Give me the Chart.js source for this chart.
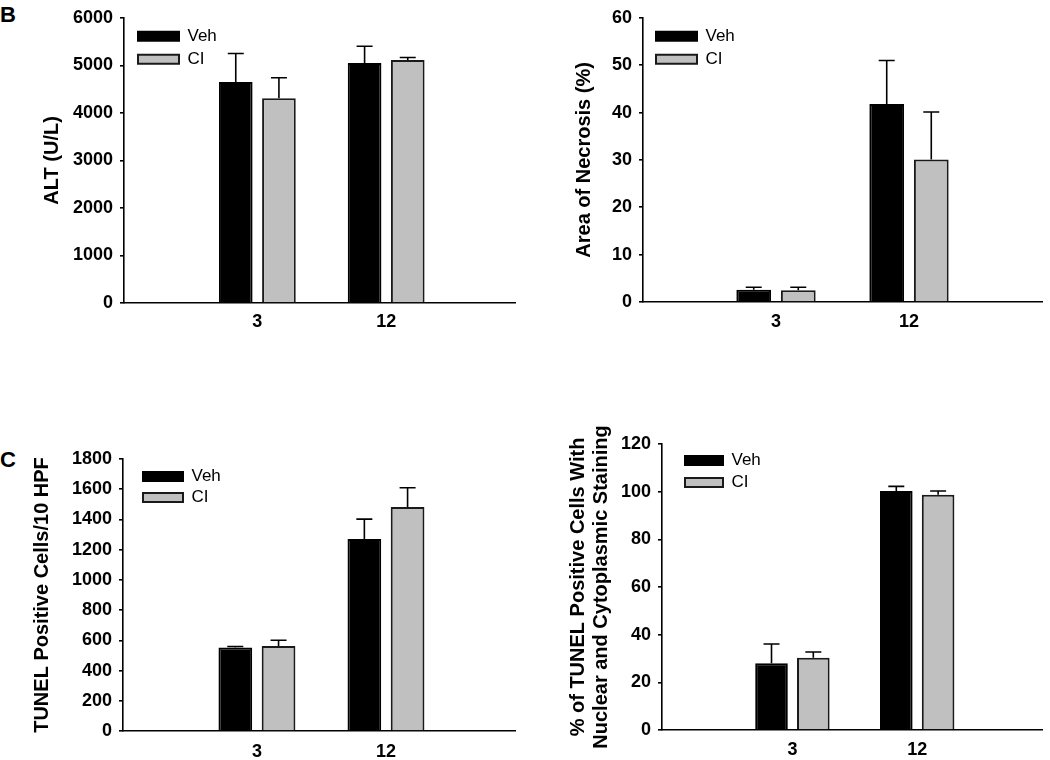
<!DOCTYPE html>
<html>
<head>
<meta charset="utf-8">
<script src="https://cdn.jsdelivr.net/npm/chart.js@4.4.1/dist/chart.umd.min.js"></script>
<style>
  html, body { margin: 0; padding: 0; background: #fff; }
  body { position: relative; width: 1050px; height: 760px; overflow: hidden; font-family: "Liberation Sans", Arial, sans-serif; }
  canvas { position: absolute; }
  .panel-label { position: absolute; font-weight: bold; font-size: 22px; color: #000; line-height: 1; }
</style>
</head>
<body>
<div class="panel-label" style="left:0px; top:4px;">B</div>
<div class="panel-label" style="left:0px; top:449px;">C</div>
<canvas id="altChart" width="525" height="345" style="left:0px; top:0px; width:525px; height:345px;"></canvas>
<canvas id="necChart" width="525" height="345" style="left:525px; top:0px; width:525px; height:345px;"></canvas>
<canvas id="tunelChart" width="525" height="340" style="left:0px; top:420px; width:525px; height:340px;"></canvas>
<canvas id="pctChart" width="525" height="340" style="left:525px; top:420px; width:525px; height:340px;"></canvas>
<script>
// ---------- data ----------
const timepoints = ['3', '12'];
const seriesNames = ['Veh', 'CI'];

const altVeh = [4650, 5050];
const altVehErr = [600, 350];
const altCI = [4310, 5110];
const altCIErr = [430, 55];
const altAxis = [0, 6000, 1000];          // min, max, step

const necVeh = [2.6, 41.8];
const necVehErr = [0.5, 9.2];
const necCI = [2.5, 30.1];
const necCIErr = [0.6, 10.0];
const necAxis = [0, 60, 10];

const tunVeh = [552, 1270];
const tunVehErr = [7, 132];
const tunCI = [563, 1482];
const tunCIErr = [38, 128];
const tunAxis = [0, 1800, 200];

const pctVeh = [28.0, 100.3];
const pctVehErr = [8.1, 1.9];
const pctCI = [30.3, 98.7];
const pctCIErr = [2.4, 1.6];
const pctAxis = [0, 120, 20];

const altTitle = 'ALT (U/L)';
const necTitle = 'Area of Necrosis (%)';
const tunTitle = 'TUNEL Positive Cells/10 HPF';
const pctTitle = ['% of TUNEL Positive Cells With', 'Nuclear and Cytoplasmic Staining'];

// ---------- styling ----------
const FONT = "'Liberation Sans', Arial, Helvetica, sans-serif";
Chart.defaults.font.family = FONT;
Chart.defaults.color = '#000';

const vehColor = '#000000';
const ciColor = '#c0c0c0';

// each time point is placed at group position 1, 2 on a linear x axis
const toPoints = vals => vals.map((v, i) => ({ x: i + 1, y: v }));

const errorBarPlugin = {
  id: 'errorBars',
  afterDatasetsDraw(chart, args, opts) {
    const ctx = chart.ctx;
    const yScale = chart.scales.y;
    const cap = opts.cap || 16;
    chart.data.datasets.forEach((ds, i) => {
      if (!ds.errors) return;
      const meta = chart.getDatasetMeta(i);
      meta.data.forEach((bar, j) => {
        const pt = ds.data[j];
        const e = ds.errors[j];
        if (pt == null || e == null) return;
        const top = yScale.getPixelForValue(pt.y + e);
        ctx.save();
        ctx.strokeStyle = '#000';
        ctx.lineWidth = 1.6;
        ctx.beginPath();
        ctx.moveTo(bar.x, bar.y);
        ctx.lineTo(bar.x, top);
        ctx.moveTo(bar.x - cap / 2, top);
        ctx.lineTo(bar.x + cap / 2, top);
        ctx.stroke();
        ctx.restore();
      });
    });
  }
};

// place the legend (drawn by Chart.js) inside the plot area, near the top-left corner
const legendShiftPlugin = {
  id: 'legendShift',
  afterLayout(chart, args, opts) {
    const lg = chart.legend;
    if (lg) {
      lg.left = chart.chartArea.left + (opts.dx || 0);
      lg.top = chart.chartArea.top + (opts.dy || 0);
    }
  }
};

function makeChart(canvasId, p) {
  return new Chart(document.getElementById(canvasId), {
    type: 'bar',
    data: {
      datasets: [
        {
          label: seriesNames[0],
          data: toPoints(p.veh),
          errors: p.vehErr,
          backgroundColor: vehColor,
          borderColor: '#000',
          borderWidth: 2,
          categoryPercentage: 0.67,
          barPercentage: 0.78
        },
        {
          label: seriesNames[1],
          data: toPoints(p.ci),
          errors: p.ciErr,
          backgroundColor: ciColor,
          borderColor: '#1a1a1a',
          borderWidth: 2,
          categoryPercentage: 0.67,
          barPercentage: 0.78
        }
      ]
    },
    options: {
      responsive: false,
      animation: false,
      devicePixelRatio: 1,
      events: [],
      layout: { padding: p.pad },
      plugins: {
        tooltip: { enabled: false },
        title: { display: false },
        legend: {
          display: true,
          position: 'chartArea',
          align: 'start',
          labels: {
            boxWidth: p.legendBoxW,
            boxHeight: 9,
            padding: p.legendPad,
            color: '#000',
            font: { size: 17, weight: 'normal', family: FONT }
          }
        },
        legendShift: { dx: p.legendDx, dy: p.legendDy },
        errorBars: { cap: 16 }
      },
      scales: {
        x: {
          type: 'linear',
          min: p.xRange[0],
          max: p.xRange[1],
          offset: false,
          grid: { display: false, drawTicks: false, offset: false },
          border: { display: true, color: '#000', width: 1.6 },
          afterBuildTicks: s => { s.ticks = timepoints.map((t, i) => ({ value: i + 1 })); },
          ticks: {
            autoSkip: false,
            maxRotation: 0,
            padding: p.xTickPad,
            color: '#000',
            font: { size: 18, weight: 'bold', family: FONT },
            callback: (v, idx) => timepoints[idx]
          },
          afterFit: s => { s.height = p.xHeight; }
        },
        y: {
          min: p.axis[0],
          max: p.axis[1],
          grid: {
            display: true,
            drawOnChartArea: false,
            drawTicks: true,
            tickLength: 4,
            color: '#000',
            lineWidth: 1.6
          },
          border: { display: true, color: '#000', width: 1.6 },
          ticks: {
            stepSize: p.axis[2],
            padding: 7,
            color: '#000',
            font: { size: 18, weight: 'bold', family: FONT },
            callback: v => String(v)
          },
          title: {
            display: true,
            text: p.title,
            color: '#000',
            font: { size: p.titleSize || 20, weight: 'bold', family: FONT, lineHeight: p.titleLH || 1.2 },
            padding: { top: p.titlePad, bottom: 0 }
          },
          afterFit: s => { s.width = p.yWidth; }
        }
      }
    },
    plugins: [errorBarPlugin, legendShiftPlugin]
  });
}

makeChart('altChart', {
  veh: altVeh, vehErr: altVehErr, ci: altCI, ciErr: altCIErr, axis: altAxis, title: altTitle,
  xRange: [-0.035, 3.0],
  pad: { left: 0, top: 16, right: 10, bottom: 0 }, yWidth: 124, xHeight: 42, xTickPad: 8,
  titlePad: 40, legendBoxW: 41, legendPad: 6, legendDx: 8, legendDy: 4
});

makeChart('necChart', {
  veh: necVeh, vehErr: necVehErr, ci: necCI, ciErr: necCIErr, axis: necAxis, title: necTitle,
  xRange: [0, 3.0],
  pad: { left: 0, top: 14, right: 8, bottom: 0 }, yWidth: 118, xHeight: 43, xTickPad: 9,
  titlePad: 47, legendBoxW: 41, legendPad: 6, legendDx: 7, legendDy: 4
});

makeChart('tunelChart', {
  veh: tunVeh, vehErr: tunVehErr, ci: tunCI, ciErr: tunCIErr, axis: tunAxis, title: tunTitle,
  xRange: [-0.038, 3.0],
  pad: { left: 0, top: 39, right: 10, bottom: 0 }, yWidth: 123, xHeight: 29, xTickPad: 10,
  titlePad: 30, legendBoxW: 40, legendPad: 4, legendDx: 16, legendDy: 5
});

makeChart('pctChart', {
  veh: pctVeh, vehErr: pctVehErr, ci: pctCI, ciErr: pctCIErr, axis: pctAxis, title: pctTitle,
  xRange: [-0.045, 3.0],
  pad: { left: 0, top: 24, right: 8, bottom: 0 }, yWidth: 137, xHeight: 30, xTickPad: 9,
  titlePad: 42, titleLH: 1.15, legendBoxW: 38, legendPad: 5, legendDx: 18, legendDy: 3
});
</script>
</body>
</html>
